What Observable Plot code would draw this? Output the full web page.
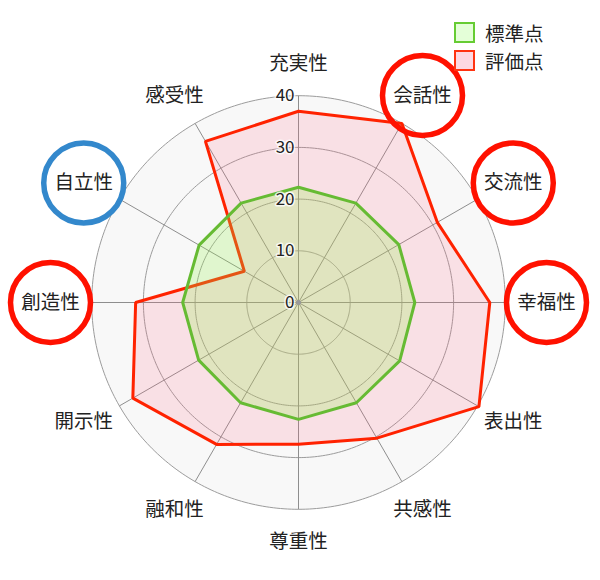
<!DOCTYPE html>
<html>
<head>
<meta charset="utf-8">
<script src="https://cdn.jsdelivr.net/npm/d3@7"></script>
<script src="https://cdn.jsdelivr.net/npm/@observablehq/plot@0.6"></script>
<style>
  body { margin: 0; background: #fff; font-family: "Noto Sans CJK JP", "Noto Sans", sans-serif; }
  #wrap { position: relative; width: 600px; height: 580px; }
  #legend { position: absolute; left: 454px; top: 21px; font-size: 19.5px; color: #222; }
  .item { display: flex; align-items: center; height: 22px; margin-bottom: 6.5px; }
  .sw { width: 17px; height: 17px; border: 2px solid; margin-right: 10px; }
</style>
</head>
<body>
<div id="wrap">
  <div id="chart"></div>
  <div id="legend"></div>
</div>
<script>
const categories = ["充実性","会話性","交流性","幸福性","表出性","共感性","尊重性","融和性","開示性","創造性","自立性","感受性"];
const standard   = [22.3, 22.2, 22.4, 22.5, 22.6, 22.4, 22.6, 22.4, 22.3, 22.4, 22.2, 22.2];
const evaluation = [37, 40, 31, 37, 40.3, 30.3, 27.4, 31.7, 37, 31.5, 12.1, 36];
const ticks = [0, 10, 20, 30, 40];
const seriesNames = ["標準点", "評価点"];
const highlightRed = ["会話性", "交流性", "幸福性", "創造性"];
const highlightBlue = ["自立性"];

const K = 5.17;           // px per unit
const CX = 298, CY = 302; // centre in px
const maxV = 40;
const ang = i => i * 2 * Math.PI / categories.length;

const ringPts = [];
for (const t of ticks.filter(t => t > 0)) {
  for (let a = 0; a < 360; a += 1) {
    const r = a * Math.PI / 180;
    ringPts.push({t, x: t * Math.sin(r), y: t * Math.cos(r)});
  }
}
const outerPts = ringPts.filter(d => d.t === maxV);

const poly = vals => vals.map((v, i) => ({x: v * Math.sin(ang(i)), y: v * Math.cos(ang(i))}));
const stdPts = poly(standard);
const evPts = poly(evaluation);

const LA = 248 / K, LB = 239 / K;
const labelData = categories.map((c, i) => ({c, x: LA * Math.sin(ang(i)), y: LB * Math.cos(ang(i))}));

const chart = Plot.plot({
  width: 600,
  height: 580,
  margin: 0,
  x: {domain: [-CX / K, (600 - CX) / K], axis: null},
  y: {domain: [-(580 - CY) / K, CY / K], axis: null},
  style: {fontFamily: '"Noto Sans CJK JP", "Noto Sans", sans-serif', background: "transparent"},
  marks: [
    Plot.line(outerPts, {x: "x", y: "y", curve: "linear-closed", fill: "#f8f8f8", stroke: "none"}),
    Plot.line(ringPts, {x: "x", y: "y", z: "t", curve: "linear-closed", stroke: "#9c9c9c", strokeWidth: 1}),
    Plot.link(categories, {x1: 0, y1: 0,
      x2: (d, i) => maxV * Math.sin(ang(i)), y2: (d, i) => maxV * Math.cos(ang(i)),
      stroke: "#8e8e8e", strokeWidth: 1}),
    Plot.line(evPts, {x: "x", y: "y", curve: "linear-closed",
      fill: "rgb(255,100,130)", fillOpacity: 0.16, stroke: "#ff2200", strokeWidth: 3, strokeLinejoin: "miter"}),
    Plot.line(stdPts, {x: "x", y: "y", curve: "linear-closed",
      fill: "rgb(150,240,80)", fillOpacity: 0.25, stroke: "#66bb33", strokeWidth: 3, strokeLinejoin: "miter"}),
    Plot.dot([0], {x: 0, y: 0, r: 2.5, fill: "#999"}),
    Plot.text(ticks, {x: 0, y: d => d, text: d => String(d), textAnchor: "end", dx: -4,
      fontSize: 17, fill: "#222", stroke: "white", strokeWidth: 3, strokeOpacity: 0.8}),
    Plot.text(labelData, {x: "x", y: "y", text: "c", fontSize: 19.5, fill: "#222"}),
    Plot.dot(labelData.filter(d => highlightRed.includes(d.c)), {x: "x", y: "y", r: 40,
      stroke: "#ff1100", strokeWidth: 5.5, fill: "none"}),
    Plot.dot(labelData.filter(d => highlightBlue.includes(d.c)), {x: "x", y: "y", r: 40,
      stroke: "#3388cc", strokeWidth: 5.5, fill: "none"})
  ]
});
document.getElementById("chart").appendChild(chart);

const legendColors = [
  {stroke: "#66cc33", fill: "#e4ffd8"},
  {stroke: "#ff3311", fill: "#fdd8e2"}
];
const legend = document.getElementById("legend");
seriesNames.forEach((name, i) => {
  const item = document.createElement("div");
  item.className = "item";
  const sw = document.createElement("div");
  sw.className = "sw";
  sw.style.borderColor = legendColors[i].stroke;
  sw.style.background = legendColors[i].fill;
  const t = document.createElement("span");
  t.textContent = name;
  item.appendChild(sw);
  item.appendChild(t);
  legend.appendChild(item);
});
</script>
</body>
</html>
